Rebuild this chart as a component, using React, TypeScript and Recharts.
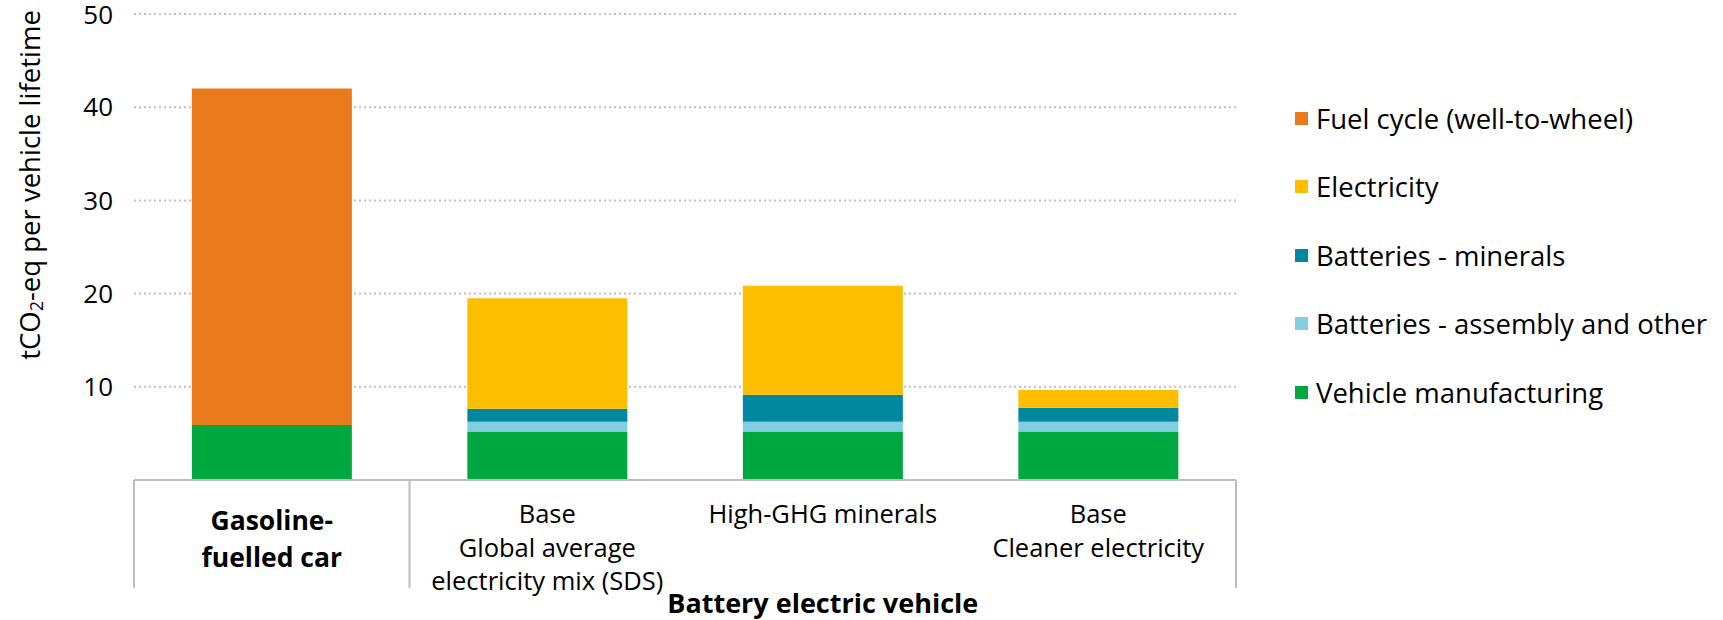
import { BarChart, Bar, XAxis, YAxis, CartesianGrid, Legend } from 'recharts'

const categories = [
  'Gasoline-fuelled car',
  'Base - global average electricity mix',
  'High-GHG minerals',
  'Base - cleaner electricity',
]
const categoryLines = [
  ['Gasoline-', 'fuelled car'],
  ['Base', 'Global average', 'electricity mix (SDS)'],
  ['High-GHG minerals'],
  ['Base', 'Cleaner electricity'],
]
const groupLabel = 'Battery electric vehicle'

const vehicleManufacturing = [5.9, 5.2, 5.2, 5.2]
const batteriesAssembly = [0, 1.05, 1.05, 1.05]
const batteriesMinerals = [0, 1.4, 2.9, 1.5]
const electricity = [0, 11.85, 11.7, 1.9]
const fuelCycle = [36.1, 0, 0, 0]

const yTicks = [10, 20, 30, 40, 50]

const FONT = '"Open Sans", "Noto Sans", sans-serif'

// bottom to top
const series = [
  { key: 'vehicle', name: 'Vehicle manufacturing', color: '#00A83F' },
  { key: 'assembly', name: 'Batteries - assembly and other', color: '#82CDE2' },
  { key: 'minerals', name: 'Batteries - minerals', color: '#01889F' },
  { key: 'electricity', name: 'Electricity', color: '#FEBE00' },
  { key: 'fuel', name: 'Fuel cycle (well-to-wheel)', color: '#E97B1C' },
]

const data = categories.map((name, i) => ({
  name,
  vehicle: vehicleManufacturing[i],
  assembly: batteriesAssembly[i],
  minerals: batteriesMinerals[i],
  electricity: electricity[i],
  fuel: fuelCycle[i],
}))

const BOX = '#BDBDBD'

function CategoryTick(props: any) {
  const { x, y, payload, index } = props
  const half = payload && typeof payload.offset === 'number' && payload.offset > 0 ? payload.offset : 137.75
  const lines = categoryLines[index] || []
  const bold = index === 0
  const starts = bold ? [50, 87] : [43, 77, 110]
  return (
    <g>
      {index === 0 && <line x1={x - half} x2={x - half} y1={y} y2={y + 108} stroke={BOX} strokeWidth={2} />}
      {index === 0 && <line x1={x + half} x2={x + half} y1={y} y2={y + 108} stroke={BOX} strokeWidth={2} />}
      {index === categories.length - 1 && (
        <line x1={x + half} x2={x + half} y1={y} y2={y + 108} stroke={BOX} strokeWidth={2} />
      )}
      {lines.map((t, i) => (
        <text
          key={i}
          x={x}
          y={y + starts[i]}
          textAnchor="middle"
          fontFamily={FONT}
          fontSize={bold ? 26.5 : 25.5}
          fontWeight={bold ? 700 : 400}
          fill="#000"
        >
          {t}
        </text>
      ))}
      {index === 2 && (
        <text x={x} y={y + 133} textAnchor="middle" fontFamily={FONT} fontSize={27} fontWeight={700} fill="#000">
          {groupLabel}
        </text>
      )}
    </g>
  )
}

function YTitle() {
  const cx = 29
  const cy = 185
  return (
    <text
      x={cx}
      y={cy}
      transform={`rotate(-90 ${cx} ${cy})`}
      textAnchor="middle"
      dominantBaseline="central"
      fontFamily={FONT}
      fontSize={27.5}
      fill="#000"
    >
      tCO
      <tspan dy={7} fontSize={18}>2</tspan>
      <tspan dy={-7}>-eq per vehicle lifetime</tspan>
    </text>
  )
}

function LegendList() {
  const items = [...series].reverse()
  return (
    <div style={{ fontFamily: FONT }}>
      {items.map((s) => (
        <div key={s.key} style={{ height: 68.5, display: 'flex', alignItems: 'center' }}>
          <span
            style={{ width: 13, height: 13, background: s.color, display: 'inline-block', marginRight: 8, flex: 'none' }}
          />
          <span style={{ fontSize: 27.5, color: '#000', whiteSpace: 'nowrap' }}>{s.name}</span>
        </div>
      ))}
    </div>
  )
}

export default function App() {
  return (
    <div style={{ position: 'absolute', left: 0, top: 0, background: '#fff' }}>
      <BarChart
        width={1723}
        height={620}
        data={data}
        margin={{ top: 14, right: 487, left: 0, bottom: 0 }}
        barCategoryGap="21%"
      >
        <CartesianGrid vertical={false} stroke="#BFBFBF" strokeWidth={2} strokeDasharray="2 3" />
        <XAxis
          dataKey="name"
          interval={0}
          height={140}
          tickLine={false}
          tickSize={0}
          tickMargin={0}
          axisLine={{ stroke: BOX, strokeWidth: 2 }}
          tick={<CategoryTick />}
        />
        <YAxis
          width={134}
          domain={[0, 50]}
          ticks={yTicks}
          axisLine={false}
          tickLine={false}
          tickSize={0}
          tickMargin={21}
          tick={{ fontFamily: FONT, fontSize: 26, fill: '#000' }}
          label={<YTitle />}
        />
        <Legend
          layout="vertical"
          align="center"
          verticalAlign="middle"
          content={<LegendList />}
          wrapperStyle={{ left: 1295, top: 84, width: 428 }}
        />
        {series.map((s) => (
          <Bar key={s.key} dataKey={s.key} name={s.name} stackId="a" fill={s.color} isAnimationActive={false} />
        ))}
      </BarChart>
    </div>
  )
}
